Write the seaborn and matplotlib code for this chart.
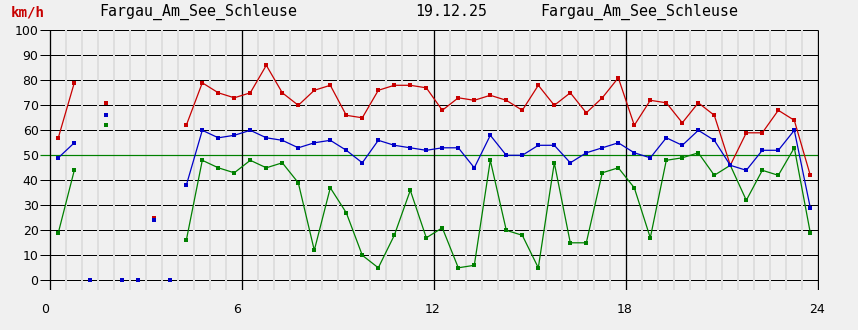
import numpy as np
import pandas as pd
import matplotlib
matplotlib.use("Agg")
import matplotlib.pyplot as plt
import matplotlib.transforms as mtransforms
import seaborn as sns

nan = np.nan
# half-hour slots, values in km/h
slot_hours = [0.25 + 0.5 * i for i in range(48)]
gust = [57, 79, nan, 71, nan, nan, 25, nan, 62, 79, 75, 73, 75, 86, 75, 70, 76, 78, 66, 65,
        76, 78, 78, 77, 68, 73, 72, 74, 72, 68, 78, 70, 75, 67, 73, 81, 62, 72, 71, 63,
        71, 66, 46, 59, 59, 68, 64, 42]
mean = [49, 55, 0, 66, 0, 0, 24, 0, 38, 60, 57, 58, 60, 57, 56, 53, 55, 56, 52, 47,
        56, 54, 53, 52, 53, 53, 45, 58, 50, 50, 54, 54, 47, 51, 53, 55, 51, 49, 57, 54,
        60, 56, 46, 44, 52, 52, 60, 29]
low = [19, 44, nan, 62, nan, nan, nan, nan, 16, 48, 45, 43, 48, 45, 47, 39, 12, 37, 27, 10,
       5, 18, 36, 17, 21, 5, 6, 48, 20, 18, 5, 47, 15, 15, 43, 45, 37, 17, 48, 49,
       51, 42, 46, 32, 44, 42, 53, 19]
x_ticks = [0, 6, 12, 18, 24]
y_ticks = list(range(0, 101, 10))
station = "Fargau_Am_See_Schleuse"
date_label = "19.12.25"
unit_label = "km/h"

colors = {"gust": "#c80000", "low": "#008000", "mean": "#0000c8"}
series = {"gust": gust, "low": low, "mean": mean}

# build long tables
rows = []
for name, vals in series.items():
    for t, v in zip(slot_hours, vals):
        rows.append({"t": t, "v": v, "series": name})
df = pd.DataFrame(rows).dropna()

complete = [not (np.isnan(gust[i]) or np.isnan(mean[i]) or np.isnan(low[i])) for i in range(48)]
seg_ids = []
seg = 0
prev = False
for c in complete:
    if c and not prev:
        seg += 1
    seg_ids.append(seg if c else -1)
    prev = c
line_rows = []
for name, vals in series.items():
    for i, (t, v) in enumerate(zip(slot_hours, vals)):
        if seg_ids[i] >= 0:
            line_rows.append({"t": t, "v": v, "series": name, "seg": seg_ids[i]})
df_lines = pd.DataFrame(line_rows)

bg = "#f0f0f0"
fig = plt.figure(figsize=(8.58, 3.30), dpi=100, facecolor=bg)
W, H = 858, 330
px = 32.0  # pixels per hour
x0px = 50.3
left_px, right_px = 40.0, 819.3
top_px, bot_px = 29.55, 290.0
ax = fig.add_axes([left_px / W, 1 - bot_px / H, (right_px - left_px) / W, (bot_px - top_px) / H])
ax.set_facecolor(bg)
xmin = (left_px - x0px) / px
xmax = (right_px - x0px) / px
ymin = (280.3 - bot_px) / 2.5
ymax = (280.3 - top_px) / 2.5
ax.set_xlim(xmin, xmax)
ax.set_ylim(ymin, ymax)
for s in ax.spines.values():
    s.set_visible(False)

lw1 = 0.72
# horizontal grid
for yv in y_ticks:
    if yv == 50:
        continue
    ax.plot([xmin, 24], [yv, yv], color="black", lw=lw1, zorder=1, solid_capstyle="butt")
# half-hour light verticals
for k in range(1, 48):
    xv = k * 0.5
    if xv % 6 == 0:
        continue
    ax.plot([xv, xv], [ymin, 100], color="#dedede", lw=1.44, zorder=2, solid_capstyle="butt")
ax.plot([xmin, 24], [50, 50], color="#008000", lw=lw1 * 1.2, zorder=3, solid_capstyle="butt")
for xv in x_ticks:
    ax.plot([xv, xv], [ymin, 100], color="black", lw=lw1 * 1.3, zorder=3, solid_capstyle="butt")

order = ["gust", "low", "mean"]
sns.lineplot(data=df_lines, x="t", y="v", hue="series", hue_order=order, palette=colors,
             units="seg", estimator=None, sort=False, lw=0.9, legend=False, ax=ax, zorder=4)
for k, name in enumerate(order):
    sns.scatterplot(data=df[df["series"] == name], x="t", y="v", color=colors[name],
                    marker="s", s=8, linewidth=0, legend=False, ax=ax, zorder=5 + k)

ax.set_xlabel("")
ax.set_ylabel("")
ax.set_yticks(y_ticks)
ax.set_yticklabels([str(v) for v in y_ticks], fontsize=9, family="DejaVu Sans")
ax.set_xticks(x_ticks)
ax.set_xticklabels([str(v) for v in x_ticks], fontsize=9, family="DejaVu Sans", ha="left")
ax.tick_params(axis="y", length=0, pad=1.0)
ax.tick_params(axis="x", length=0, pad=9.3)
off = mtransforms.ScaledTranslation(-9.5 / 100, 0, fig.dpi_scale_trans)
for lab in ax.get_xticklabels():
    lab.set_transform(lab.get_transform() + off)

base_y = 1 - 16.0 / H
mono = "DejaVu Sans Mono"
fig.text(10.5 / W, base_y, unit_label, color="#c80000", fontsize=10.2, family=mono,
         fontweight="bold", va="baseline", ha="left")
fig.text(99.5 / W, base_y, station, color="black", fontsize=10.7, family=mono,
         va="baseline", ha="left")
fig.text(415 / W, base_y, date_label, color="black", fontsize=10.7, family=mono,
         va="baseline", ha="left")
fig.text(540 / W, base_y, station, color="black", fontsize=10.7, family=mono,
         va="baseline", ha="left")

fig.savefig("out.png", dpi=100, facecolor=bg)
